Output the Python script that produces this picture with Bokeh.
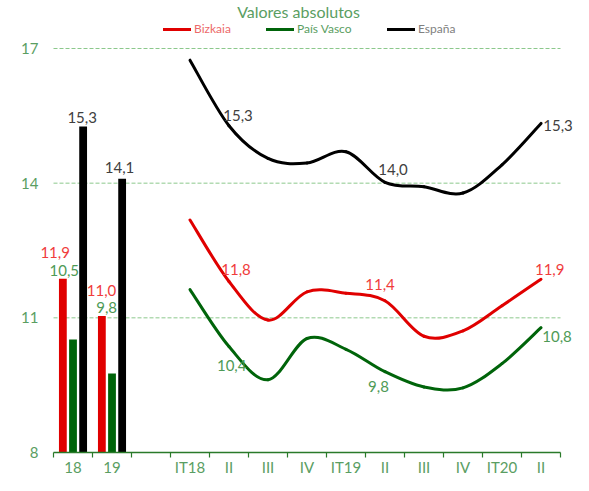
import numpy as np
from bokeh.plotting import figure
from bokeh.models import (ColumnDataSource, Range1d, FixedTicker, LabelSet, Label,
                          Legend, LegendItem)
from bokeh.core.properties import value
from bokeh.embed import file_html
from bokeh.resources import INLINE

# ---------------- data ----------------
categories = ["18", "19", "", "IT18", "II", "III", "IV", "IT19", "II", "III", "IV", "IT20", "II"]
annual_idx = [0, 1]
quarter_idx = [3, 4, 5, 6, 7, 8, 9, 10, 11, 12]

bizkaia_annual = [11.87, 11.04]
pv_annual = [10.52, 9.76]
espana_annual = [15.26, 14.10]

bizkaia_q = [13.18, 11.81, 10.95, 11.58, 11.55, 11.38, 10.59, 10.71, 11.27, 11.86]
pv_q = [11.63, 10.36, 9.62, 10.54, 10.30, 9.80, 9.46, 9.44, 9.98, 10.78]
espana_q = [16.74, 15.28, 14.55, 14.45, 14.70, 14.02, 13.92, 13.78, 14.41, 15.33]

y_ticks = [8, 11, 14, 17]
series_names = ["Bizkaia", "País Vasco", "España"]
title_text = "Valores absolutos"
labeled_q = [1, 5, 9]

# ---------------- styles ----------------
FONT = "Lato"
RED, GREEN, BLACK = "#e00000", "#00640a", "#000000"
RED_TXT, GREEN_TXT, BLACK_TXT = "#f03c3c", "#4e9a56", "#404040"
LEG_TXT = ["#ec6a6a", "#5a9e62", "#808080"]
AXIS_TXT = "#5a9e62"
AXIS_LINE = "#2a7a2a"
GRID = "#8cc88c"
series_colors = [RED, GREEN, BLACK]
series_txt = [RED_TXT, GREEN_TXT, BLACK_TXT]
bar_offsets = [-0.26, 0.0, 0.26]
bar_width = 0.2
# label offsets in screen px (dx right, dy down)
bar_label_off = [[(-7.7, -26.5), (-0.3, -26.0)],
                 [(-8.7, -69.0), (-5.4, -65.5)],
                 [(-1.0, -9.0), (-2.6, -11.0)]]
line_label_off = [[(7.0, -11.6), (-5.0, -16.7), (8.7, -9.3)],
                  [(2.7, 18.7), (-6.5, 15.0), (16.0, 9.0)],
                  [(9.0, -10.7), (8.0, -13.0), (17.0, 2.0)]]

fmt = lambda v: f"{v:.1f}".replace(".", ",")

n_cat = len(categories)
centers = np.arange(n_cat) + 0.5
bounds_x = np.arange(n_cat + 1)
y_min, y_max = y_ticks[0], y_ticks[-1]

# geometry: the frame covers the whole canvas; axes are pinned inside it
W, H = 573, 475
X0_PX, XN_PX = 53, 560        # canvas px of first / last category boundary
Y_MIN_PX, Y_MAX_PX = 452, 48  # canvas px of y_min / y_max
cat_px = (XN_PX - X0_PX) / n_cat
unit_px = (Y_MIN_PX - Y_MAX_PX) / (y_max - y_min)
x_start = -X0_PX / cat_px
x_end = n_cat + (W - XN_PX) / cat_px
y_start = y_min - (H - Y_MIN_PX) / unit_px
y_end = y_max + Y_MAX_PX / unit_px

p = figure(width=W, height=H, x_range=Range1d(x_start, x_end), y_range=Range1d(y_start, y_end),
           output_backend="svg", toolbar_location=None,
           min_border_left=0, min_border_right=0, min_border_top=0, min_border_bottom=0)
p.outline_line_color = None
p.background_fill_color = "white"
p.border_fill_color = "white"
p.xgrid.visible = False
p.ygrid.visible = False

# y axis pinned at the first category boundary
p.yaxis.fixed_location = 0
p.yaxis.ticker = FixedTicker(ticks=y_ticks)
p.yaxis.axis_line_color = None
p.yaxis.major_tick_line_color = None
p.yaxis.major_tick_out = 0
p.yaxis.major_tick_in = 0
p.yaxis.minor_tick_line_color = None
p.yaxis.major_label_text_font = FONT
p.yaxis.major_label_text_font_size = "15px"
p.yaxis.major_label_text_color = AXIS_TXT
p.yaxis.major_label_standoff = 15

# x axis pinned at y_min, ticks on category boundaries, labels at centres
p.xaxis.fixed_location = y_min
p.xaxis.bounds = (0, n_cat)
p.xaxis.ticker = FixedTicker(ticks=list(centers), minor_ticks=list(bounds_x))
p.xaxis.major_label_overrides = {float(c): lab for c, lab in zip(centers, categories)}
p.xaxis.axis_line_color = AXIS_LINE
p.xaxis.axis_line_width = 1.5
p.xaxis.major_tick_line_color = None
p.xaxis.major_tick_out = 0
p.xaxis.major_tick_in = 0
p.xaxis.minor_tick_line_color = AXIS_LINE
p.xaxis.minor_tick_line_width = 1.2
p.xaxis.minor_tick_out = 5
p.xaxis.minor_tick_in = 0
p.xaxis.major_label_text_font = FONT
p.xaxis.major_label_text_font_size = "15px"
p.xaxis.major_label_text_color = AXIS_TXT
p.xaxis.major_label_standoff = 0

# horizontal dashed gridlines over the category span
gy = y_ticks[1:]
p.segment(x0=[0] * len(gy), x1=[n_cat] * len(gy), y0=gy, y1=gy,
          line_color=GRID, line_width=1, line_dash="4 2")

# ---------------- bars ----------------
annual = [bizkaia_annual, pv_annual, espana_annual]
for s, vals in enumerate(annual):
    xs = np.array(annual_idx) + 0.5 + bar_offsets[s]
    p.vbar(x=xs, top=vals, bottom=y_min, width=bar_width, fill_color=series_colors[s],
           line_color=None)
    offs = bar_label_off[s]
    src = ColumnDataSource(dict(x=xs, y=vals, text=[fmt(v) for v in vals],
                                dx=[o[0] for o in offs], dy=[-o[1] for o in offs]))
    p.add_layout(LabelSet(x="x", y="y", text="text", source=src, x_offset="dx", y_offset="dy",
                          text_align="center", text_baseline="middle",
                          text_font=value(FONT), text_font_size="15px",
                          text_color=series_txt[s]))

# ---------------- smoothed lines ----------------
def smooth_segments(xs, ys):
    P = np.column_stack([xs, ys]).astype(float)
    n = len(P)
    out = dict(x0=[], y0=[], x1=[], y1=[], cx0=[], cy0=[], cx1=[], cy1=[])
    for i in range(n - 1):
        p0 = P[max(i - 1, 0)]
        p1 = P[i]
        p2 = P[i + 1]
        p3 = P[min(i + 2, n - 1)]
        c0 = p1 + (p2 - p0) / 6.0
        c1 = p2 - (p3 - p1) / 6.0
        out["x0"].append(p1[0]); out["y0"].append(p1[1])
        out["x1"].append(p2[0]); out["y1"].append(p2[1])
        out["cx0"].append(c0[0]); out["cy0"].append(c0[1])
        out["cx1"].append(c1[0]); out["cy1"].append(c1[1])
    return out

quarterly = [bizkaia_q, pv_q, espana_q]
qx = np.array(quarter_idx) + 0.5
line_renderers = []
for s, vals in enumerate(quarterly):
    seg = ColumnDataSource(smooth_segments(qx, vals))
    r = p.bezier(x0="x0", y0="y0", x1="x1", y1="y1", cx0="cx0", cy0="cy0", cx1="cx1", cy1="cy1",
                 source=seg, line_color=series_colors[s], line_width=3, line_cap="round")
    line_renderers.append(r)
    offs = line_label_off[s]
    lx = [qx[i] for i in labeled_q]
    ly = [vals[i] for i in labeled_q]
    src = ColumnDataSource(dict(x=lx, y=ly, text=[fmt(v) for v in ly],
                                dx=[o[0] for o in offs], dy=[-o[1] for o in offs]))
    p.add_layout(LabelSet(x="x", y="y", text="text", source=src, x_offset="dx", y_offset="dy",
                          text_align="center", text_baseline="middle",
                          text_font=value(FONT), text_font_size="15px",
                          text_color=series_txt[s]))

# ---------------- legend ----------------
leg_x = [163, 266, 387]
leg_y = H - 36
for s, name in enumerate(series_names):
    leg = Legend(items=[LegendItem(label=name, renderers=[line_renderers[s]])],
                 location=(leg_x[s], leg_y), orientation="horizontal",
                 glyph_width=28, glyph_height=12, label_height=12, label_standoff=3,
                 padding=0, margin=0, spacing=0, border_line_color=None,
                 background_fill_alpha=0, label_text_font=FONT, label_text_font_size="12px",
                 label_text_color=LEG_TXT[s])
    p.add_layout(leg, "center")

# ---------------- title ----------------
p.add_layout(Label(x=298, y=H - 1, x_units="screen", y_units="screen", text=title_text,
                   text_align="center", text_baseline="top", text_font=FONT,
                   text_font_size="16px", text_color=AXIS_TXT))

open("out.html", "w").write(file_html(p, INLINE))
